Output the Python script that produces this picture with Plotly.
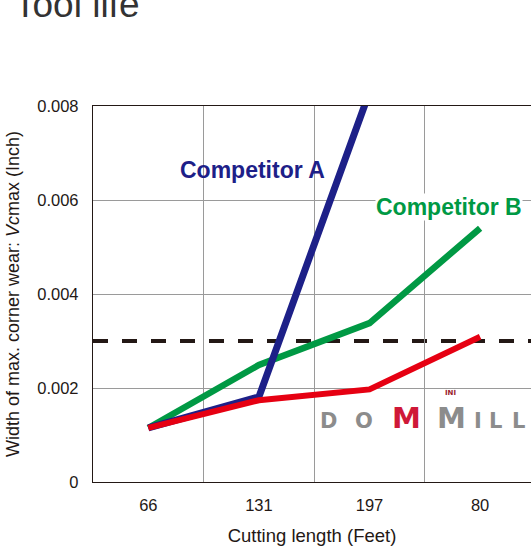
import plotly.graph_objects as go

# ---- data ----
categories = ["66", "131", "197", "80"]
competitor_a = [0.00115, 0.00181, 0.0083]
competitor_b = [0.00115, 0.00249, 0.00338, 0.0054]
dommill = [0.00115, 0.00174, 0.00197, 0.00309]
threshold = 0.003
y_ticks = [0, 0.002, 0.004, 0.006, 0.008]
y_tick_labels = ["0", "0.002", "0.004", "0.006", "0.008"]

W, H = 531, 550
L, R, T, B = 93, 0, 106, 68
PW, PH = W - L - R, H - T - B

def px_x(x):
    return (x - L) / PW

def px_y(y):
    return (H - B - y) / PH

xi = list(range(len(categories)))

BLUE = "#1d2088"
GREEN = "#009944"
RED = "#e60012"
DARK = "#231815"
GRID = "#9a9a9a"

fig = go.Figure()
fig.add_trace(go.Scatter(x=xi[:len(competitor_b)], y=competitor_b, mode="lines",
                         line=dict(color=GREEN, width=6.5), showlegend=False, hoverinfo="skip"))
fig.add_trace(go.Scatter(x=xi[:len(competitor_a)], y=competitor_a, mode="lines",
                         line=dict(color=BLUE, width=7), showlegend=False, hoverinfo="skip"))
fig.add_trace(go.Scatter(x=xi[:len(dommill)], y=dommill, mode="lines",
                         line=dict(color=RED, width=6), showlegend=False, hoverinfo="skip"))

fig.add_shape(type="line", xref="paper", yref="y", x0=0, x1=1, y0=threshold, y1=threshold,
              line=dict(color=DARK, width=4, dash="15px,14px"), layer="between")

fonts = "Liberation Sans, Arial, Helvetica, sans-serif"

annotations = [
    dict(text="Tool life", xref="paper", yref="paper", x=px_x(12), y=px_y(4),
         xanchor="left", yanchor="middle", showarrow=False,
         font=dict(family=fonts, size=37, color="#333333")),
    dict(text="<b>Competitor A</b>", xref="paper", yref="paper", x=px_x(252), y=px_y(170),
         xanchor="center", yanchor="middle", showarrow=False,
         font=dict(family=fonts, size=23, color=BLUE)),
    dict(text="<b>Competitor B</b>", xref="paper", yref="paper", x=px_x(449), y=px_y(207),
         xanchor="center", yanchor="middle", showarrow=False, bgcolor="white", borderpad=0,
         font=dict(family=fonts, size=23, color=GREEN)),
]

logo_font = "DejaVu Sans, Verdana, sans-serif"
logo = [
    ("D", 328, 421, 21, "#8c8c8c"),
    ("O", 364, 421, 21, "#8c8c8c"),
    ("M", 406, 418, 29, "#cf1838"),
    ("M", 451, 418, 29, "#8c8c8c"),
    ("I", 478, 421, 21, "#8c8c8c"),
    ("L", 495, 421, 21, "#8c8c8c"),
    ("L", 518, 421, 21, "#8c8c8c"),
    ("INI", 450, 393, 7, "#9a1a2a"),
]
for ch, x, y, s, c in logo:
    annotations.append(dict(text=f"<b>{ch}</b>", xref="paper", yref="paper", x=px_x(x), y=px_y(y),
                            xanchor="center", yanchor="middle", showarrow=False, borderpad=0,
                            font=dict(family=logo_font, size=s, color=c)))

fig.update_layout(
    width=W, height=H,
    margin=dict(l=L, r=R, t=T, b=B, pad=0),
    paper_bgcolor="white", plot_bgcolor="white",
    font=dict(family=fonts, color=DARK),
    showlegend=False,
    annotations=annotations,
    xaxis=dict(
        range=[-0.5, 3.46], tickvals=xi, ticktext=categories,
        showgrid=False, zeroline=False, showline=True, linecolor=DARK, linewidth=1.3,
        mirror=True, ticks="", ticklabelstandoff=8,
        tickfont=dict(size=16.5, color=DARK),
        minor=dict(tickvals=[0.5, 1.5, 2.5, 3.5], showgrid=True, gridcolor=GRID, gridwidth=1, ticks=""),
        title=dict(text="Cutting length (Feet)", font=dict(size=18.5, color=DARK), standoff=16),
    ),
    yaxis=dict(
        range=[0, 0.008], tickvals=y_ticks, ticktext=y_tick_labels,
        showgrid=True, gridcolor=GRID, gridwidth=1, zeroline=False,
        showline=True, linecolor=DARK, linewidth=1.3, mirror=False,
        ticks="", ticklabelstandoff=10,
        tickfont=dict(size=16.5, color=DARK),
        title=dict(text="Width of max. corner wear: <i>Vc</i>max (Inch)",
                   font=dict(size=18, color=DARK), standoff=12),
    ),
)

fig.write_html("out.html")
